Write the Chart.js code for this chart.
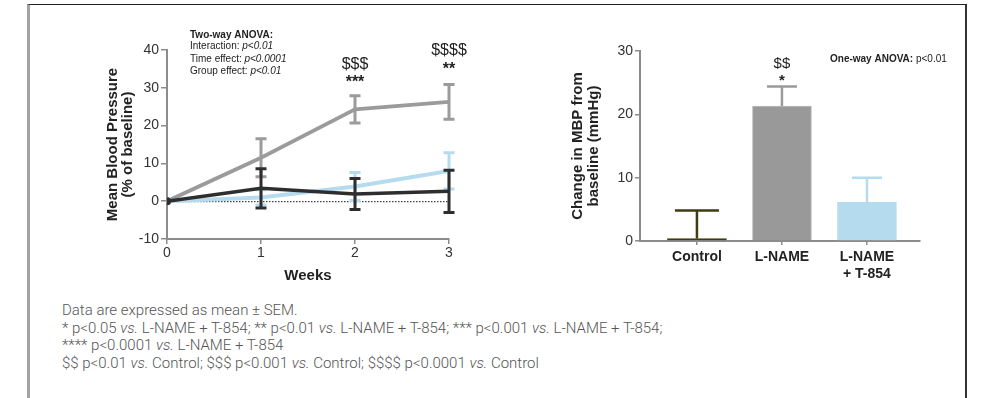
<!DOCTYPE html>
<html>
<head>
<meta charset="utf-8">
<script src="https://cdn.jsdelivr.net/npm/chart.js@4.4.0/dist/chart.umd.min.js"></script>
<style>
  body { margin: 0; background: #fff; width: 983px; height: 398px; overflow: hidden; position: relative; }
  #marco { position: absolute; left: 27px; top: 4px; width: 935px; height: 420px;
           border-top: 1px solid #222; border-left: 3px solid #a3a3a3; border-right: 2px solid #333; }
  #graficoSemanas { position: absolute; left: 0; top: 0; }
  #graficoBarras { position: absolute; left: 520px; top: 0; }
  #notas { position: absolute; left: 62px; top: 302px; font-family: Roboto, sans-serif; font-weight: 300;
           font-size: 15px; line-height: 17.5px; color: #555; white-space: nowrap; }
</style>
</head>
<body>
<div id="marco"></div>
<canvas id="graficoSemanas" width="500" height="300"></canvas>
<canvas id="graficoBarras" width="463" height="300"></canvas>
<div id="notas">
  Data are expressed as mean ± SEM.<br>
  * p&lt;0.05 <i>vs.</i> L-NAME + T-854; ** p&lt;0.01 <i>vs.</i> L-NAME + T-854; *** p&lt;0.001 <i>vs.</i> L-NAME + T-854;<br>
  **** p&lt;0.0001 <i>vs.</i> L-NAME + T-854<br>
  $$ p&lt;0.01 <i>vs.</i> Control; $$$ p&lt;0.001 <i>vs.</i> Control; $$$$ p&lt;0.0001 <i>vs.</i> Control
</div>
<script>
// ---------------- DATOS ----------------
const semanas = [0, 1, 2, 3];
const semanasTicks = [0, 1, 2, 3];
const presionTicks = [-10, 0, 10, 20, 30, 40];

const lname = [0, 11.5, 24.3, 26.3];
const lnameErr = [0, 5.0, 3.6, 4.6];
const t854 = [0, 1.0, 3.9, 8.0];
const t854Err = [0, 2.0, 3.7, 4.8];
const control = [0, 3.4, 1.9, 2.6];
const controlErr = [0, 5.2, 4.1, 5.6];

// marcas de significacion sobre las semanas
const sigSemanas = [2, 3];
const sigDolares = ["$$$", "$$$$"];
const sigEstrellas = ["***", "**"];

const grupos = ["Control", "L-NAME", ["L-NAME", "+ T-854"]];
const gruposPos = [0, 1, 2];
const cambioMBP = [0.4, 21.3, 6.1];
const cambioErr = [4.4, 3.1, 3.9];
const cambioTicks = [0, 10, 20, 30];

const anovaDos = [
  ["Interaction: ", "p<0.01"],
  ["Time effect: ", "p<0.0001"],
  ["Group effect: ", "p<0.01"]
];

Chart.defaults.font.family = "'Liberation Sans', Arial, sans-serif";
Chart.defaults.color = "#333";

const GRIS = "#9b9b9b";
const AZUL = "#b5dbee";
const OSCURO = "#2e2e2e";
const OLIVA = "#3f3c12";
const EJE = "#8c8c8c";

// ---------------- PLUGINS ----------------
const barrasError = {
  id: "barrasError",
  afterDatasetDraw(chart, args) {
    const ds = chart.data.datasets[args.index];
    if (!ds.errores) return;
    const y = chart.scales.y;
    const ctx = chart.ctx;
    ctx.save();
    ctx.lineWidth = ds.grosorError;
    ctx.lineCap = "butt";
    args.meta.data.forEach((el, i) => {
      const e = ds.errores[i];
      if (!e) return;
      const v = ds.data[i].y;
      const color = Array.isArray(ds.colorError) ? ds.colorError[i] : ds.colorError;
      const cap = Array.isArray(ds.anchoCap) ? ds.anchoCap[i] : ds.anchoCap;
      const arriba = y.getPixelForValue(v + e);
      const abajo = y.getPixelForValue(ds.soloArriba ? v : v - e);
      ctx.strokeStyle = color;
      ctx.beginPath();
      ctx.moveTo(el.x, arriba);
      ctx.lineTo(el.x, abajo);
      ctx.moveTo(el.x - cap / 2, arriba);
      ctx.lineTo(el.x + cap / 2, arriba);
      if (!ds.soloArriba) {
        ctx.moveTo(el.x - cap / 2, abajo);
        ctx.lineTo(el.x + cap / 2, abajo);
      }
      ctx.stroke();
    });
    ctx.restore();
  }
};

const lineaCero = {
  id: "lineaCero",
  beforeDatasetsDraw(chart) {
    const ctx = chart.ctx;
    const y0 = chart.scales.y.getPixelForValue(0);
    ctx.save();
    ctx.strokeStyle = "#111";
    ctx.lineWidth = 1;
    ctx.setLineDash([1.5, 1.5]);
    ctx.beginPath();
    ctx.moveTo(chart.chartArea.left, y0 + 0.5);
    ctx.lineTo(chart.chartArea.right, y0 + 0.5);
    ctx.stroke();
    ctx.restore();
  }
};

function textoMixto(ctx, x, y, partes) {
  partes.forEach(p => {
    ctx.font = p[1];
    ctx.fillText(p[0], x, y);
    x += ctx.measureText(p[0]).width;
  });
}

const textosSemanas = {
  id: "textosSemanas",
  afterDraw(chart) {
    const ctx = chart.ctx;
    const fam = "'Liberation Sans', Arial, sans-serif";
    ctx.save();
    ctx.fillStyle = "#222";
    ctx.textBaseline = "middle";
    ctx.textAlign = "left";
    ctx.font = "bold 10px " + fam;
    ctx.fillText("Two-way ANOVA:", 190, 35);
    anovaDos.forEach((l, i) => {
      textoMixto(ctx, 190, 46.5 + i * 12.5, [[l[0], "10px " + fam], [l[1], "italic 10px " + fam]]);
    });
    ctx.textAlign = "center";
    ctx.fillStyle = "#222";
    sigSemanas.forEach((s, i) => {
      const x = chart.scales.x.getPixelForValue(s);
      ctx.font = "16px " + fam;
      ctx.fillText(sigDolares[i], x, i === 0 ? 65 : 50.5);
      ctx.font = "bold 16px " + fam;
      ctx.fillText(sigEstrellas[i], x, i === 0 ? 83 : 70);
    });
    ctx.restore();
  }
};

const textosBarras = {
  id: "textosBarras",
  afterDraw(chart) {
    const ctx = chart.ctx;
    const fam = "'Liberation Sans', Arial, sans-serif";
    ctx.save();
    ctx.fillStyle = "#222";
    ctx.textBaseline = "middle";
    ctx.textAlign = "center";
    const x = chart.scales.x.getPixelForValue(1);
    ctx.font = "15px " + fam;
    ctx.fillText("$$", x, 64);
    ctx.font = "bold 15px " + fam;
    ctx.fillText("*", x, 81);
    ctx.textAlign = "left";
    textoMixto(ctx, 310, 59.5, [["One-way ANOVA:", "bold 10px " + fam], [" p<0.01", "10px " + fam]]);
    ctx.restore();
  }
};

// ---------------- GRAFICO SEMANAS ----------------
function serie(valores, err, color, ancho) {
  return {
    data: semanas.map((s, i) => ({ x: s, y: valores[i] })),
    errores: err,
    borderColor: color,
    backgroundColor: color,
    colorError: color,
    borderWidth: ancho,
    pointRadius: [4, 0, 0, 0],
    pointBorderWidth: 0,
    tension: 0,
    anchoCap: 11,
    grosorError: 3,
    soloArriba: false
  };
}

new Chart(document.getElementById("graficoSemanas"), {
  type: "line",
  data: {
    datasets: [
      serie(control, controlErr, OSCURO, 3.5),
      serie(lname, lnameErr, GRIS, 3.8),
      serie(t854, t854Err, AZUL, 4)
    ]
  },
  options: {
    responsive: false,
    animation: false,
    layout: { padding: { top: 50, left: 100, right: 51, bottom: 17 } },
    plugins: { legend: { display: false }, tooltip: { enabled: false } },
    scales: {
      x: {
        type: "linear",
        min: 0, max: 3,
        afterBuildTicks: s => { s.ticks = semanasTicks.map(v => ({ value: v })); },
        afterFit: s => { s.height = 44; },
        ticks: { font: { size: 14 }, padding: 1, color: "#333" },
        grid: { display: true, drawOnChartArea: false, tickLength: 5, color: EJE, lineWidth: 1.5 },
        border: { display: true, color: EJE, width: 2 },
        title: { display: true, text: "Weeks", font: { size: 15, weight: "bold", lineHeight: 1 }, color: "#222", padding: 0 }
      },
      y: {
        min: -10, max: 40,
        afterBuildTicks: s => { s.ticks = presionTicks.map(v => ({ value: v })); },
        afterFit: s => { s.width = 67; },
        ticks: { font: { size: 14 }, padding: 2, color: "#333" },
        grid: { display: true, drawOnChartArea: false, tickLength: 6, color: EJE, lineWidth: 1.5 },
        border: { display: true, color: EJE, width: 2 },
        title: { display: true, text: ["Mean Blood Pressure", "(% of baseline)"],
                 font: { size: 15, weight: "bold", lineHeight: 1 }, color: "#222", padding: { top: 5.5 } }
      }
    }
  },
  plugins: [barrasError, lineaCero, textosSemanas]
});

// ---------------- GRAFICO BARRAS ----------------
new Chart(document.getElementById("graficoBarras"), {
  type: "bar",
  data: {
    datasets: [{
      data: gruposPos.map((p, i) => ({ x: p, y: cambioMBP[i] })),
      errores: cambioErr,
      backgroundColor: [OLIVA, "#999999", AZUL],
      borderColor: [OLIVA, "#bdbdbd", AZUL],
      borderWidth: 1,
      colorError: [OLIVA, GRIS, AZUL],
      anchoCap: [44, 30, 30],
      grosorError: 2.5,
      soloArriba: true,
      barThickness: 59
    }]
  },
  options: {
    responsive: false,
    animation: false,
    layout: { padding: { top: 51, left: 50, right: 63, bottom: 19 } },
    plugins: { legend: { display: false }, tooltip: { enabled: false } },
    scales: {
      x: {
        type: "linear",
        min: -0.67, max: 2.624,
        offset: false,
        afterBuildTicks: s => { s.ticks = gruposPos.map(v => ({ value: v })); },
        afterFit: s => { s.height = 40; },
        ticks: { callback: (v, i) => grupos[i], font: { size: 14, weight: "bold", lineHeight: 1.2 }, padding: 4, color: "#222" },
        grid: { display: true, offset: false, drawOnChartArea: false, tickLength: 4, color: EJE, lineWidth: 1.5 },
        border: { display: true, color: EJE, width: 2 }
      },
      y: {
        min: 0, max: 30,
        afterBuildTicks: s => { s.ticks = cambioTicks.map(v => ({ value: v })); },
        afterFit: s => { s.width = 70; },
        ticks: { font: { size: 14 }, padding: 2, color: "#333" },
        grid: { display: true, drawOnChartArea: false, tickLength: 5, color: EJE, lineWidth: 1.5 },
        border: { display: true, color: EJE, width: 2 },
        title: { display: true, text: ["Change in MBP from", "baseline (mmHg)"],
                 font: { size: 15, weight: "bold", lineHeight: 1.07 }, color: "#222", padding: { top: 0 } }
      }
    }
  },
  plugins: [barrasError, textosBarras]
});
</script>
</body>
</html>
